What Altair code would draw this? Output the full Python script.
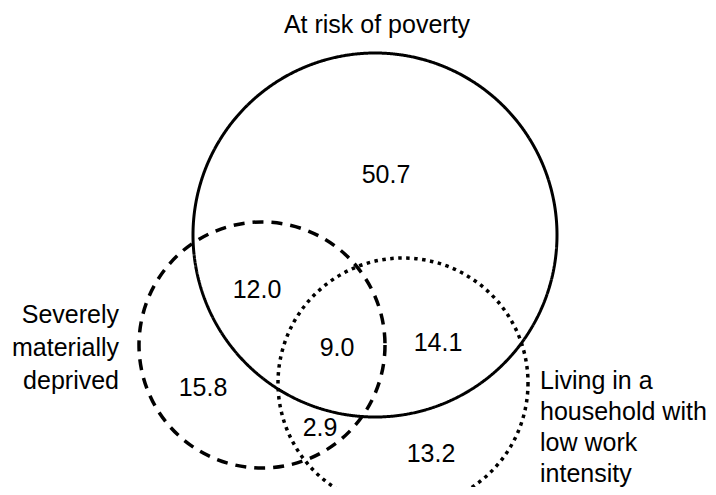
import altair as alt
import pandas as pd

# Circles (diagram geometry, in page pixel units)
set_names = ["At risk of poverty", "Severely materially deprived",
             "Living in a household with low work intensity"]
set_cx = [375, 262, 403]
set_cy = [235, 345, 383]
set_r = [182, 123, 125]
set_dash = ["solid", "dashed", "dotted"]

# Region values
region_values = ["50.7", "12.0", "9.0", "14.1", "15.8", "2.9", "13.2"]
region_x = [386, 257, 337, 438, 203, 320, 431]
region_y = [183, 298, 356, 351, 396, 436, 462]

# Set labels
label_text = [["At risk of poverty"],
              ["Severely", "materially", "deprived"],
              ["Living in a", "household with", "low work", "intensity"]]
label_x = [377, 119, 540]
label_y = [33, 323, 389]
label_align = ["center", "right", "left"]
label_lh = [32, 33, 31]

W, H = 700, 479
xs = alt.Scale(domain=[8, 8 + W], nice=False, zero=False)
ys = alt.Scale(domain=[8, 8 + H], nice=False, zero=False, reverse=True)

circles = pd.DataFrame({"name": set_names, "cx": set_cx, "cy": set_cy,
                        "r": set_r, "dash": set_dash})
circles["size"] = (2 * circles["r"]) ** 2

dash_arrays = {"solid": [1, 0], "dashed": [11, 8], "dotted": [3.5, 4.5]}
dash_width = {"solid": 3, "dashed": 3.5, "dotted": 3.5}

layers = []
for d in set_dash:
    layers.append(
        alt.Chart(circles[circles["dash"] == d]).mark_point(
            shape="circle", filled=False, stroke="black",
            strokeWidth=dash_width[d], opacity=1,
            strokeDash=dash_arrays[d]
        ).encode(
            x=alt.X("cx:Q", scale=xs, axis=None),
            y=alt.Y("cy:Q", scale=ys, axis=None),
            size=alt.Size("size:Q", scale=None, legend=None),
        )
    )

regions = pd.DataFrame({"v": region_values, "x": region_x, "y": region_y})
layers.append(
    alt.Chart(regions).mark_text(
        font="Liberation Sans", fontSize=25, color="black",
        align="center", baseline="alphabetic"
    ).encode(x=alt.X("x:Q", scale=xs, axis=None),
             y=alt.Y("y:Q", scale=ys, axis=None), text="v:N")
)

for t, x, y, a, lh in zip(label_text, label_x, label_y, label_align, label_lh):
    df = pd.DataFrame({"t": ["\n".join(t)], "x": [x], "y": [y]})
    layers.append(
        alt.Chart(df).mark_text(
            font="Liberation Sans", fontSize=25, color="black",
            align=a, baseline="alphabetic", lineBreak="\n", lineHeight=lh
        ).encode(x=alt.X("x:Q", scale=xs, axis=None),
                 y=alt.Y("y:Q", scale=ys, axis=None), text="t:N")
    )

chart = alt.layer(*layers).properties(
    width=W, height=H, padding=0, background="white",
    autosize=alt.AutoSizeParams(type="none")
).configure_view(stroke=None)

chart.save("out.html", embed_options={"renderer": "svg", "actions": False})
